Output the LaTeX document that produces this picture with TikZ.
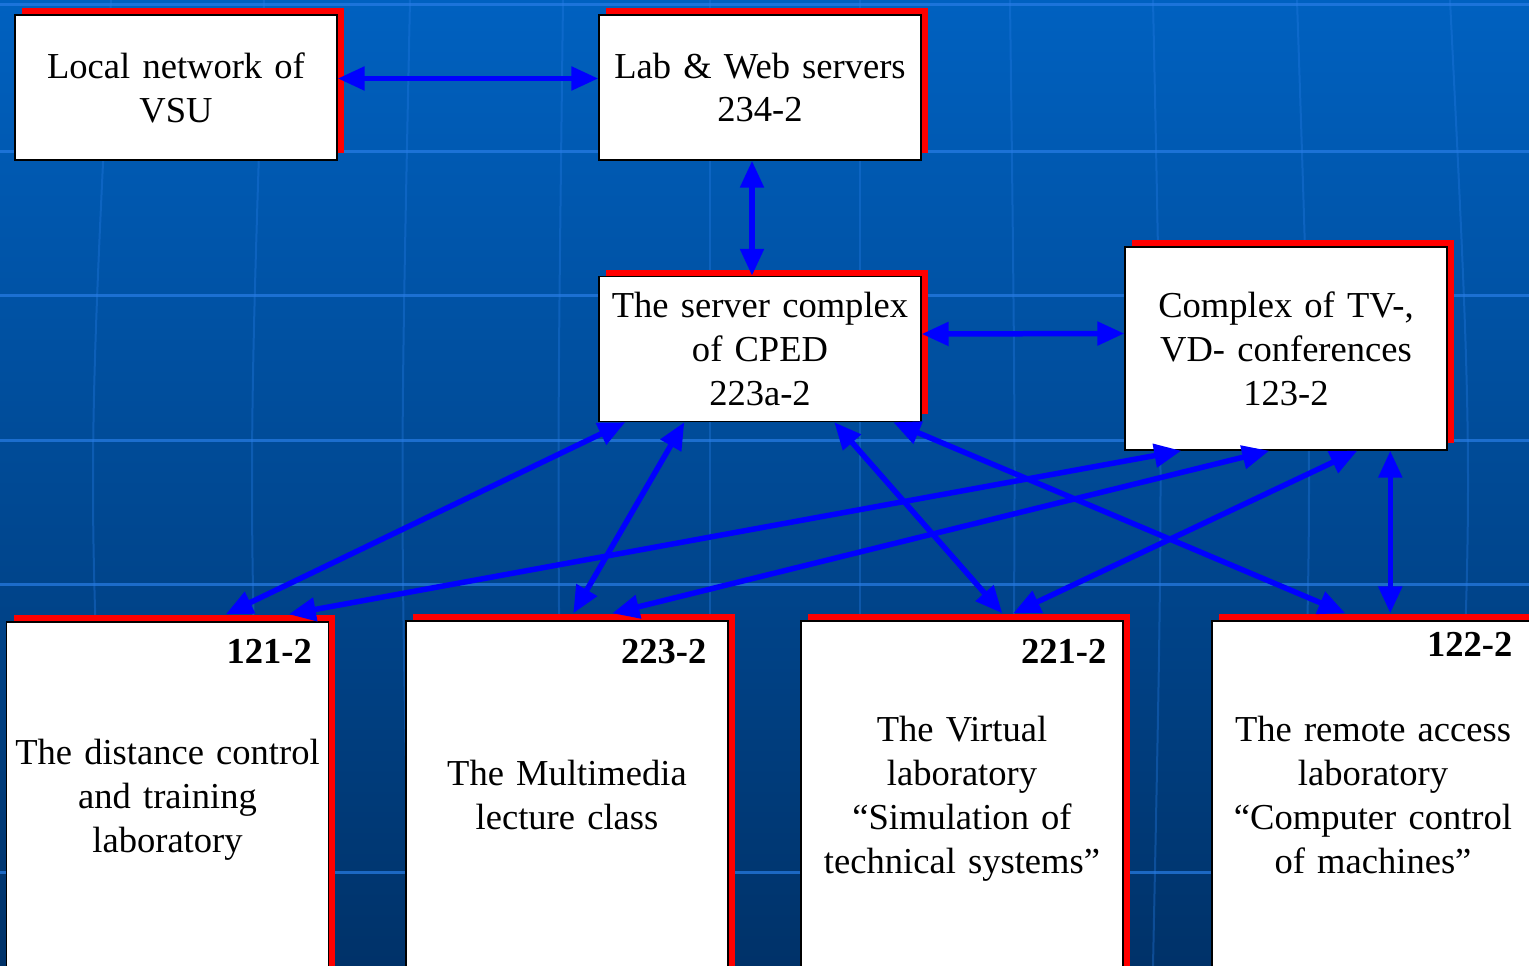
\documentclass[tikz,border=0pt]{standalone}
\usepackage{fontspec}
\setmainfont{Liberation Serif}
\usetikzlibrary{arrows.meta, shadows}
\definecolor{bgtop}{RGB}{0,97,192}
\definecolor{bgbottom}{RGB}{0,50,105}
\definecolor{gridblue}{RGB}{40,125,230}
\tikzstyle{block} = [rectangle, draw=black, line width=0.03cm, fill=white, minimum width=6.44cm, minimum height=2.9cm, text width=6.3cm, align=center, inner sep=0pt, font=\fontsize{20.8}{25}\selectfont, drop shadow={shadow xshift=0.14cm, shadow yshift=0.14cm, fill=red, opacity=1}]
\tikzstyle{roombox} = [block, minimum height=7.12cm]
\tikzstyle{roomno} = [anchor=east, inner sep=0pt, font=\fontsize{20.8}{25}\selectfont\bfseries]
\tikzstyle{arrow} = [line width=0.11cm, draw=blue, {Triangle[length=0.54cm,width=0.46cm]}-{Triangle[length=0.54cm,width=0.46cm]}]
\tikzstyle{parallel} = [line width=0.06cm, draw=gridblue, opacity=0.7]
\tikzstyle{meridian} = [line width=0.04cm, draw=gridblue, opacity=0.35]

\begin{document}
\begin{tikzpicture}[x=0.02cm, y=-0.02cm]
		\useasboundingbox (0,0) rectangle (1529,966);
		\clip (0,0) rectangle (1529,966);
		% background
		\shade [top color=bgtop, bottom color=bgbottom] (0,0) rectangle (1529,966);
		\foreach \y in {5,152,296,440,584,872}
			\draw [parallel] (0,\y) -- (1529,\y);
		\foreach \x/\b in {111/-12, 264/-8, 410/-5, 563/-3, 710/0, 860/0, 1010/3, 1153/5, 1297/8, 1450/12}
			\draw [meridian] (\x,0) .. controls (\x+2*\b,483) .. (\x,966);
		% boxes
		\node (vsu) [block] at (176,87.5) {Local network of\\VSU};
		\node (web) [block] at (760,87.5) {Lab \& Web servers\\234-2};
		\node (cped) [block] at (760,349) {The server complex\\of CPED\\223a-2};
		\node (conf) [block, minimum height=4.06cm] at (1286,348.5) {Complex of TV-,\\VD- conferences\\123-2};
		\node (r121) [roombox] at (167.5,800) {The distance control\\and training\\laboratory};
		\node (r223) [roombox] at (567,799) {The Multimedia\\lecture class\vphantom{y}};
		\node (r221) [roombox] at (962,799) {The Virtual\\laboratory\\“Simulation of\\technical systems”};
		\node (r122) [roombox] at (1373,799) {The remote access\\laboratory\\“Computer control\\of machines”\vphantom{y}};
		\node (n121) [roomno] at ([shift={(-17,30)}]r121.north east) {121-2};
		\node (n223) [roomno] at ([shift={(-22,31)}]r223.north east) {223-2};
		\node (n221) [roomno] at ([shift={(-17,31)}]r221.north east) {221-2};
		\node (n122) [roomno] at ([shift={(-22,24)}]r122.north east) {122-2};
		% links
		\draw [arrow] ([shift={(0,-9)}]vsu.east) -- ([shift={(0,-9)}]web.west);
		\draw [arrow] ([shift={(-8,0)}]web.south) -- ([shift={(-8,0)}]cped.north);
		\draw [arrow] ([shift={(0,-15)}]cped.east) -- ([shift={(0,-15)}]conf.west);
		\draw [arrow] ([shift={(27,0)}]cped.south west) -- ([shift={(220,-7)}]r121.north west);
		\draw [arrow] ([shift={(86,0)}]cped.south west) -- ([shift={(168,-7)}]r223.north west);
		\draw [arrow] ([shift={(236,0)}]cped.south west) -- ([shift={(202,-7)}]r221.north west);
		\draw [arrow] ([shift={(295,0)}]cped.south west) -- ([shift={(134,-7)}]r122.north west);
		\draw [arrow] ([shift={(57,0)}]conf.south west) -- ([shift={(283,-7)}]r121.north west);
		\draw [arrow] ([shift={(145,0)}]conf.south west) -- ([shift={(207,-7)}]r223.north west);
		\draw [arrow] ([shift={(233,0)}]conf.south west) -- ([shift={(213,-7)}]r221.north west);
		\draw [arrow] ([shift={(266,0)}]conf.south west) -- ([shift={(179,-7)}]r122.north west);
	\end{tikzpicture}
\end{document}
